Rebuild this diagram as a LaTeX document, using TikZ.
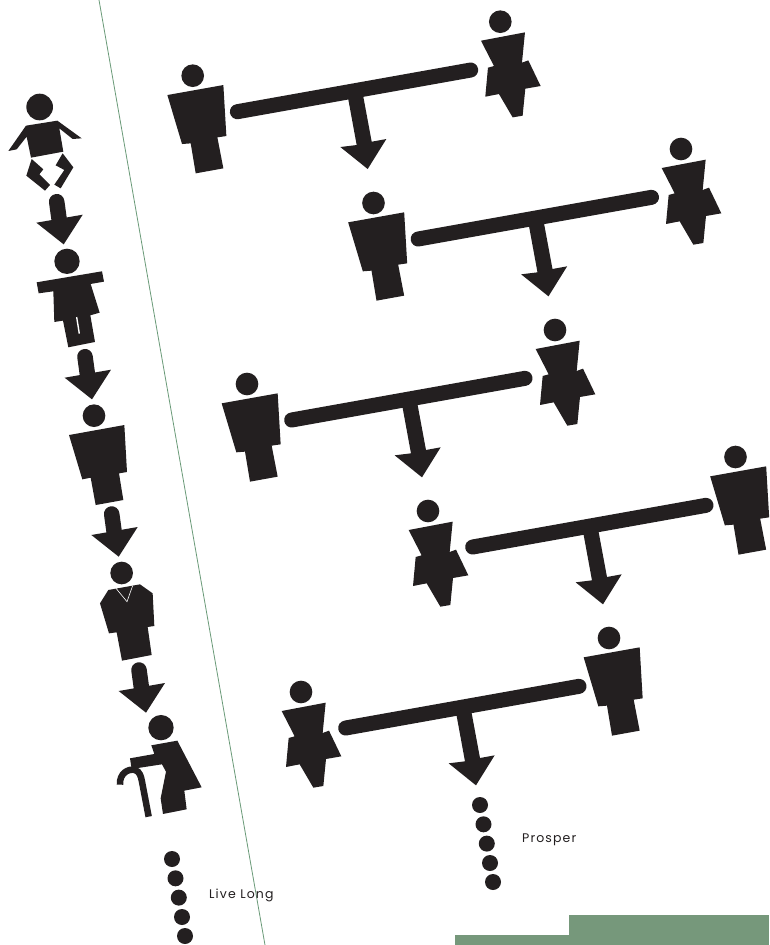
\documentclass[tikz,border=0pt]{standalone}
\usepackage{fontspec}
\setmainfont{Poppins}[LetterSpace=9]
\definecolor{ink}{HTML}{231F20}
\definecolor{sage}{HTML}{76987B}
\definecolor{rule}{HTML}{6A9A78}
\tikzset{
  solid ink/.style={fill=ink,draw=none},
  zoomed/.style={x=0.3333pt,y=-0.3333pt},
  label text/.style={text=ink,font=\fontsize{12.5}{14}\selectfont,inner sep=0pt,anchor=base west},
  pics/manfig/.style={code={
    \begin{scope}[zoomed]
      \fill[solid ink] (0,0) circle[radius=34];
      \fill[solid ink] (-76,58)--(92,28)--(101,181)--(74,185)--(92,278)--(9,293)--(-6,203)--(-32,205)--cycle;
    \end{scope}}},
  pics/womanfig/.style={code={
    \begin{scope}[zoomed]
      \fill[solid ink] (0,0) circle[radius=34];
      \fill[solid ink] (-58,57)--(74,32)--(65,123)--(84,116)--(121,193)--(75,201)--(67,282)--(37,287)--(-4,217)--(-45,225)--(-37,138)--(-19,133)--cycle;
    \end{scope}}},
  pics/seesaw/.style={code={
    \begin{scope}[zoomed]
      \draw[ink,line width=15pt,line cap=round] (134,108)--(834,-17);
      \fill[solid ink] (463,50)--(508,42)--(537,198)--(581,190)--(525,280)--(443,214)--(492,208)--cycle;
    \end{scope}}},
  pics/kidarrow/.style={code={
    \begin{scope}[zoomed]
      \draw[ink,line width=15.5pt,line cap=round] (0,0)--(11,80);
      \fill[solid ink] (-61,63)--(78,39)--(21,128)--cycle;
    \end{scope}}},
  pics/dotrun/.style={code={
    \foreach \dx/\dy in {0/0,3.5/19.3,6.8/38.6,10/58,13/77}
      \fill[solid ink] (\dx,\dy) circle[radius=8];}}
}
\begin{document}
\begin{tikzpicture}[x=1pt,y=-1pt]
\useasboundingbox (0,0) rectangle (769,945);
\fill[white] (0,0) rectangle (769,945);
% divider
\coordinate (ruleTop) at (99,0);
\coordinate (ruleEnd) at (265,945);
\draw[rule,line width=0.8pt] (ruleTop)--(ruleEnd);
% green panels
\fill[sage] (569,915) rectangle (769,945);
\fill[sage] (455,935) rectangle (769,945);
% couples
\pic at (192.7,75.7) {manfig};
\pic at (500.3,21.7) {womanfig};
\pic at (192.7,75.7) {seesaw};
\pic at (373.5,203) {manfig};
\pic at (681,149) {womanfig};
\pic at (373.5,203) {seesaw};
\pic at (247,384) {manfig};
\pic at (555,330) {womanfig};
\pic at (247,384) {seesaw};
\pic at (428,511) {womanfig};
\pic at (735.5,457) {manfig};
\pic at (428,511) {seesaw};
\pic at (301,692) {womanfig};
\pic at (609,638) {manfig};
\pic at (301,692) {seesaw};
% baby and child
\begin{scope}[shift={(0,80)},zoomed]
  \fill[solid ink] (119,81) circle[radius=40];
  \fill[solid ink] (78,137)--(172,122)--(245,175)--(218,177)--(178,145)--(190,215)--(93,233)--(80,170)--(50,208)--(25,213)--cycle;
  \fill[solid ink] (95,237)--(130,268)--(118,283)--(150,315)--(135,332)--(79,287)--cycle;
  \fill[solid ink] (188,220)--(220,262)--(182,325)--(163,314)--(193,270)--(167,256)--cycle;
  \fill[solid ink] (201,544) circle[radius=38];
  \fill[solid ink] (110,607)--(306,574)--(312,605)--(272,612)--(299,698)--(271,706)--(285,786)--(205,802)--(189,722)--(163,726)--(160,634)--(116,640)--cycle;
  \fill[white] (228,712)--(232,711)--(240,760)--(236,762)--cycle;
\end{scope}
% adult
\begin{scope}[shift={(94,415.7)},zoomed]
  \fill[solid ink] (0,0) circle[radius=34];
  \fill[solid ink] (-75,58)--(91,28)--(99,169)--(75,173)--(88,253)--(5,268)--(-10,186)--(-35,191)--cycle;
\end{scope}
% suited man and elder
\begin{scope}[shift={(60,550)},zoomed]
  \fill[solid ink] (185,69) circle[radius=34];
  \fill[solid ink] (120,160)--(145,120)--(240,103)--(278,130)--(283,228)--(263,231)--(275,315)--(186,332)--(170,247)--(147,250)--cycle;
  \draw[white,line width=0.6pt] (168,115)--(201,155)--(218,107);
  \fill[solid ink] (303,533) circle[radius=38];
  \fill[solid ink] (274,586)--(352,572)--(425,712)--(373,722)--(380,778)--(309,792)--(302,745)--(318,665)--(306,643)--(215,657)--(210,625)--(283,612)--cycle;
  \draw[ink,line width=6.5pt] (180,704) .. controls (178,670) and (205,655) .. (225,660) .. controls (240,665) and (243,680) .. (246,695) -- (266,800);
\end{scope}
% arrows
\pic at (56.7,201.7) {kidarrow};
\pic at (85,356.7) {kidarrow};
\pic at (111.7,514) {kidarrow};
\pic at (139,670) {kidarrow};
% dots
\pic at (172,859) {dotrun};
\pic at (480,805) {dotrun};
% labels
\node[label text] (liveLong) at (209,898) {Live Long};
\node[label text] (prosper) at (522,842) {Prosper};
\end{tikzpicture}
\end{document}
